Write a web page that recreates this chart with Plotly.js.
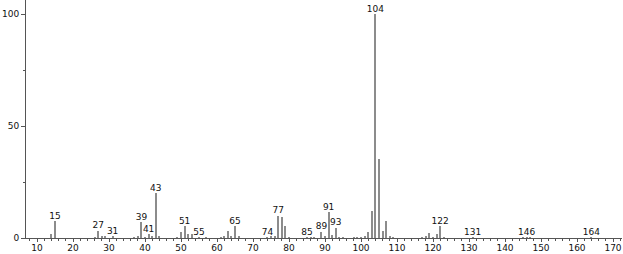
<!DOCTYPE html>
<html>
<head>
<meta charset="utf-8">
<script src="https://cdn.plot.ly/plotly-3.0.1.min.js"></script>
<style>html,body{margin:0;padding:0;background:#fff;}#chart{width:623px;height:254px;}</style>
</head>
<body>
<div id="chart"></div>
<script>
// m/z values and relative intensities (%)
const mz = [14, 15, 26, 27, 28, 29, 31, 37, 38, 39, 40, 41, 42, 43, 44, 49, 50, 51, 52, 53, 55, 57, 61, 62, 63, 64, 65, 66, 74, 75, 76, 77, 78, 79, 80, 85, 86, 87, 89, 90, 91, 92, 93, 94, 95, 98, 99, 100, 101, 102, 103, 104, 105, 106, 107, 108, 109, 117, 118, 119, 120, 121, 122, 123, 131, 145, 146, 147, 164];
const intensity = [1.8, 7.7, 0.5, 3.3, 0.8, 1.0, 0.8, 0.5, 0.8, 7.0, 0.5, 1.8, 1.0, 20.0, 0.8, 0.5, 2.5, 5.2, 1.8, 1.8, 0.5, 0.4, 0.4, 1.0, 3.0, 1.0, 5.2, 0.8, 0.5, 0.8, 1.0, 10.0, 9.5, 5.3, 0.5, 0.5, 0.4, 0.5, 2.8, 1.0, 11.7, 1.5, 4.6, 0.6, 0.6, 0.5, 0.5, 0.6, 1.0, 2.5, 12.2, 100, 35.4, 3.0, 7.7, 0.8, 0.5, 0.4, 0.8, 2.4, 0.6, 1.8, 5.4, 0.5, 0.5, 0.4, 0.5, 0.4, 0.5];
const labelMz = [15, 27, 31, 39, 41, 43, 51, 55, 65, 74, 77, 85, 89, 91, 93, 104, 122, 131, 146, 164];
const xTickVals = [10, 20, 30, 40, 50, 60, 70, 80, 90, 100, 110, 120, 130, 140, 150, 160, 170];
const yTickVals = [0, 50, 100];

const labelY = labelMz.map(m => intensity[mz.indexOf(m)]);
const fontFam = "DejaVu Sans, sans-serif";

const traces = [
  {
    type: 'bar', x: mz, y: intensity, width: 0.55,
    marker: {color: '#8c8c8c', line: {width: 0}},
    hoverinfo: 'skip'
  },
  {
    type: 'scatter', mode: 'text', x: labelMz, y: labelY,
    text: labelMz.map(String), textposition: 'top center',
    textfont: {family: fontFam, size: 9, color: '#111'},
    cliponaxis: false, hoverinfo: 'skip'
  }
];

const layout = {
  width: 623, height: 254,
  margin: {l: 26, r: 1, t: 0, b: 16, pad: 0},
  paper_bgcolor: '#fff', plot_bgcolor: '#fff',
  showlegend: false, bargap: 0,
  xaxis: {
    range: [6.94, 172.5], showgrid: false, zeroline: false,
    showline: true, linecolor: '#555', linewidth: 1,
    tickmode: 'array', tickvals: xTickVals, ticktext: xTickVals.map(String),
    ticks: 'outside', ticklen: 3, tickcolor: '#555', tickwidth: 1,
    ticklabelstandoff: -2,
    minor: {dtick: 2, tick0: 0, ticks: 'outside', ticklen: 2, tickcolor: '#555', showgrid: false},
    tickfont: {family: fontFam, size: 9, color: '#111'}
  },
  yaxis: {
    range: [0, 106.25], showgrid: false, zeroline: false,
    showline: true, linecolor: '#555', linewidth: 1,
    tickmode: 'array', tickvals: yTickVals, ticktext: yTickVals.map(String),
    ticks: 'outside', ticklen: 4, tickcolor: '#555', tickwidth: 1,
    minor: {tickvals: [25, 75], ticks: 'outside', ticklen: 2, tickcolor: '#555', showgrid: false},
    tickfont: {family: fontFam, size: 9, color: '#111'}
  }
};

Plotly.newPlot('chart', traces, layout, {displayModeBar: false, staticPlot: true});
</script>
</body>
</html>
